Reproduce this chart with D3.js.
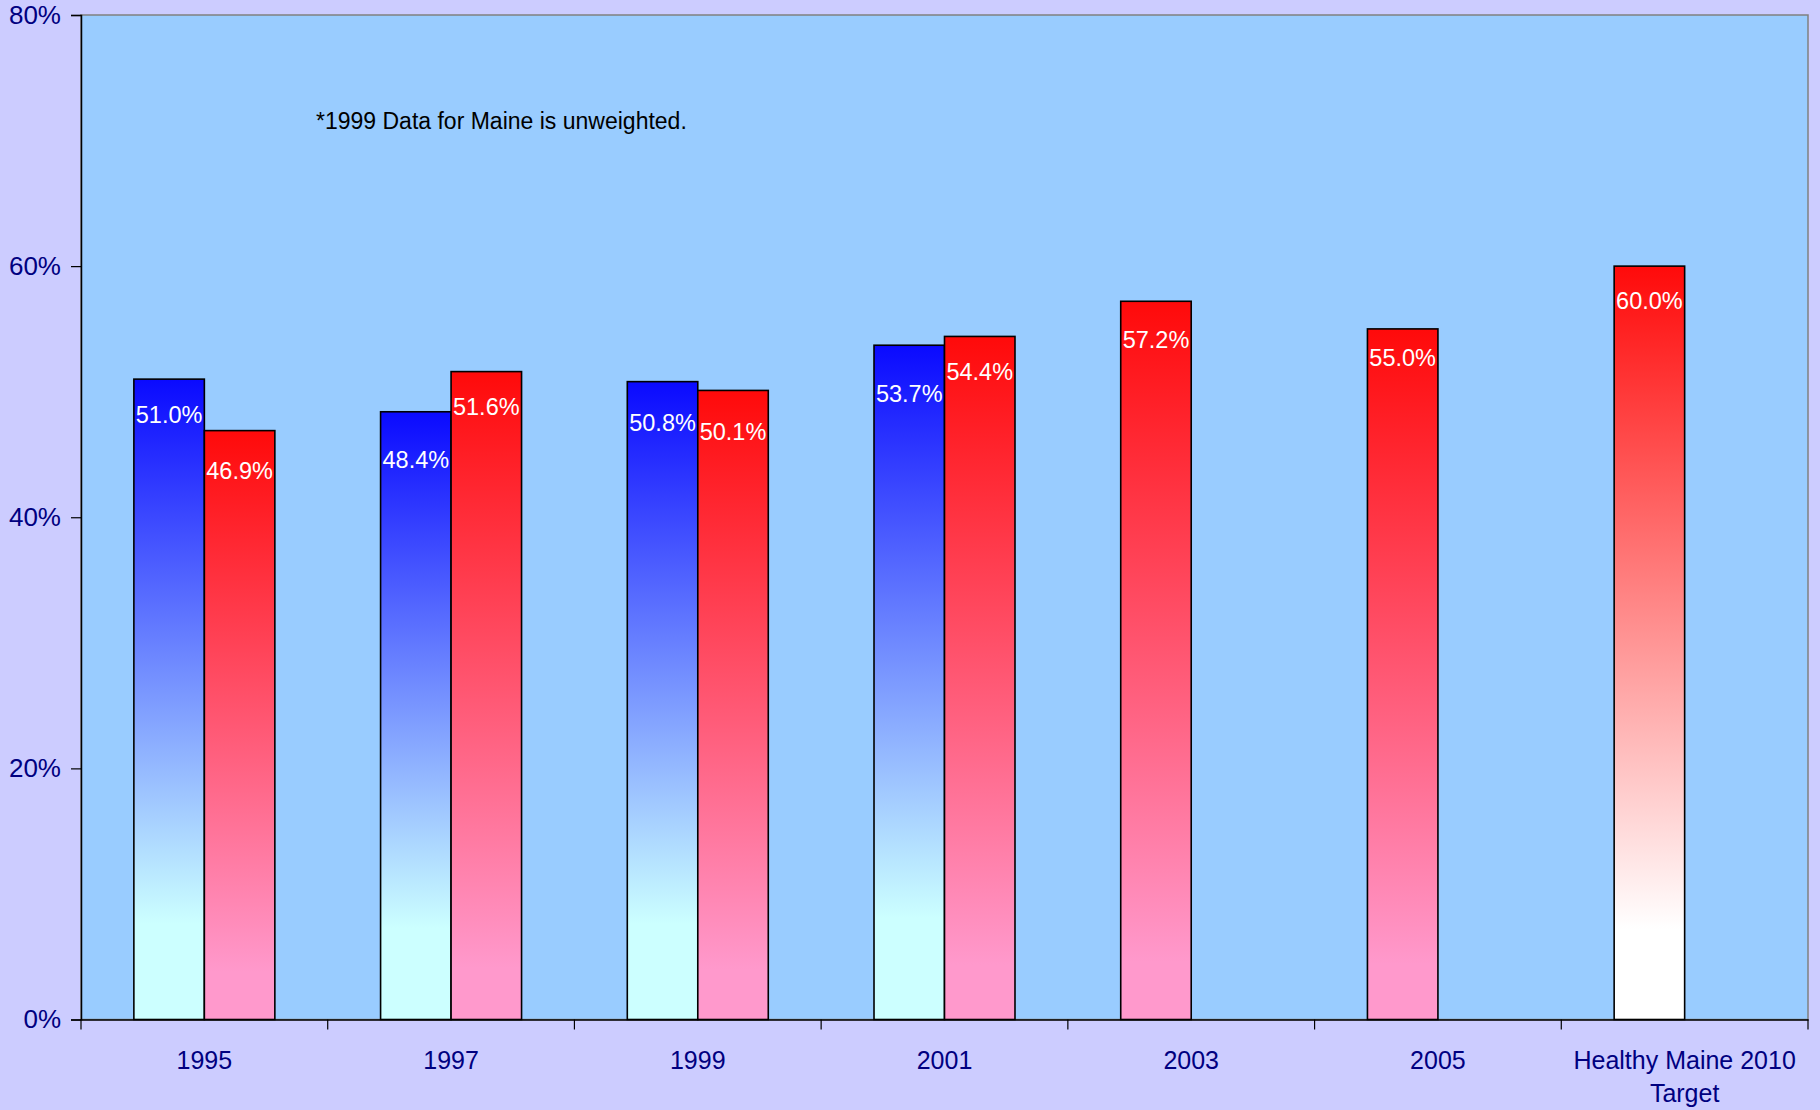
<!DOCTYPE html>
<html><head><meta charset="utf-8">
<script src="https://cdn.jsdelivr.net/npm/d3@7"></script>
<style>
html,body{margin:0;padding:0;background:#CCCCFF;}
svg{display:block;font-family:"Liberation Sans",Arial,sans-serif;}
</style></head>
<body>
<svg id="chart" width="1820" height="1110"></svg>
<script>
const categories = ["1995","1997","1999","2001","2003","2005","Healthy Maine 2010|Target"];
const seriesBlue = [51.0, 48.4, 50.8, 53.7, null, null, 60.0];
const seriesRed  = [46.9, 51.6, 50.1, 54.4, 57.2, 55.0, null];
const targetIndex = 6;
const yTicks = [0, 20, 40, 60, 80];
const note = "*1999 Data for Maine is unweighted.";

// label nudges below bar top (px), as placed in the original
const labelDyBlue = [43.5, 56.5, 49.5, 56.5, 0, 0, 42.5];
const labelDyRed  = [48, 43.5, 49.5, 43.5, 46.5, 37.5, 0];

const svg = d3.select("#chart");
const W = 1820, H = 1110;
const m = {left: 81, right: 12, top: 15, bottom: 90.5};
const pw = W - m.left - m.right, ph = H - m.top - m.bottom;

const defs = svg.append("defs");
function grad(id, top, bottom, endAt){
  const g = defs.append("linearGradient").attr("id", id)
    .attr("x1",0).attr("y1",0).attr("x2",0).attr("y2",1);
  g.append("stop").attr("offset","0%").attr("stop-color",top);
  g.append("stop").attr("offset",endAt).attr("stop-color",bottom);
  g.append("stop").attr("offset","100%").attr("stop-color",bottom);
}
grad("gBlue", "#0A0AFF", "#CCFFFF", "85%");
grad("gRed", "#FF0A0A", "#FF99CC", "92%");
grad("gTarget", "#FF0A0A", "#FFFFFF", "88%");

svg.append("rect").attr("width",W).attr("height",H).attr("fill","#CCCCFF");

const g = svg.append("g").attr("transform",`translate(${m.left},${m.top})`);
g.append("rect").attr("width",pw).attr("height",ph).attr("fill","#99CCFF")
  .attr("stroke","#808080").attr("stroke-width",1.5);

const x = d3.scaleBand().domain(categories).range([0,pw]).paddingInner(0).paddingOuter(0);
const y = d3.scaleLinear().domain([0,80]).range([ph,0]);
const bw = x.bandwidth()/3.5;
const xs = d3.scaleBand().domain([0,1]).range([x.bandwidth()/2 - bw, x.bandwidth()/2 + bw]);

const data = [];
categories.forEach((c,i)=>{
  const both = seriesBlue[i] != null && seriesRed[i] != null;
  if (seriesBlue[i] != null) data.push({c, s:0, v:seriesBlue[i], dy:labelDyBlue[i], fill: i===targetIndex ? "url(#gTarget)" : "url(#gBlue)"});
  if (seriesRed[i] != null) data.push({c, s: both ? 1 : 0, v:seriesRed[i], dy:labelDyRed[i], fill:"url(#gRed)"});
});

g.selectAll("rect.bar").data(data).enter().append("rect").attr("class","bar")
  .attr("x", d=>x(d.c)+xs(d.s)).attr("width", xs.bandwidth())
  .attr("y", d=>y(d.v)).attr("height", d=>ph - y(d.v))
  .attr("fill", d=>d.fill).attr("stroke","#000").attr("stroke-width",1.6);

g.selectAll("text.val").data(data).enter().append("text").attr("class","val")
  .attr("x", d=>x(d.c)+xs(d.s)+xs.bandwidth()/2)
  .attr("y", d=>y(d.v)+d.dy)
  .attr("text-anchor","middle").attr("fill","#FFFFFF").attr("font-size",23.5)
  .text(d=>d.v.toFixed(1)+"%");

// Y axis
const yAxis = g.append("g").call(d3.axisLeft(y).tickValues(yTicks).tickFormat(d=>d+"%").tickSize(10).tickPadding(10));
yAxis.select(".domain").attr("stroke","#000").attr("stroke-width",1.5);
yAxis.selectAll(".tick line").attr("stroke","#000").attr("stroke-width",1.2);
yAxis.selectAll(".tick text").attr("fill","#000080").attr("font-size",26)
  .attr("font-family","Liberation Sans, Arial, sans-serif");

// X axis
const xAxis = g.append("g").attr("transform",`translate(0,${ph})`)
  .call(d3.axisBottom(x).tickSize(0).tickFormat(""));
xAxis.select(".domain").attr("stroke","#000").attr("stroke-width",1.5);
const bounds = d3.range(categories.length+1).map(i=> i*x.step());
xAxis.selectAll("line.sep").data(bounds).enter().append("line").attr("class","sep")
  .attr("x1",d=>d).attr("x2",d=>d).attr("y1",0).attr("y2",10)
  .attr("stroke","#000").attr("stroke-width",1.2);
categories.forEach(c=>{
  const lines = c.split("|");
  const t = xAxis.append("text").attr("x", x(c)+x.bandwidth()/2).attr("y", 49)
    .attr("text-anchor","middle").attr("fill","#000080").attr("font-size",25);
  lines.forEach((l,i)=> t.append("tspan").attr("x", x(c)+x.bandwidth()/2).attr("dy", i===0?0:33).text(l));
});

g.append("text").attr("x", 316-m.left).attr("y", 129-m.top)
  .attr("fill","#000").attr("font-size",23).text(note);
</script>
</body></html>
